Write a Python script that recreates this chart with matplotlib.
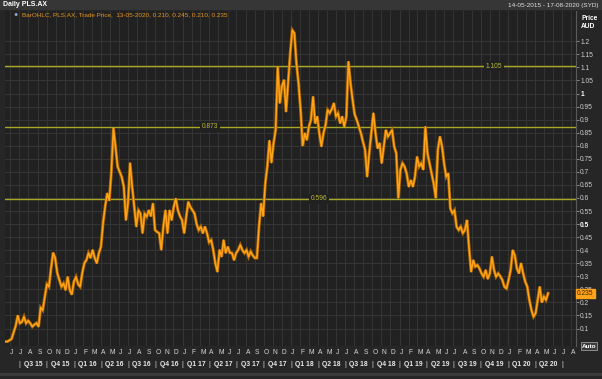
import matplotlib
matplotlib.use('Agg')
import matplotlib.pyplot as plt
import matplotlib.transforms as mtransforms
from matplotlib.patches import Rectangle
import pandas as pd
import numpy as np

plt.rcParams['font.family'] = ['Liberation Sans', 'DejaVu Sans']

# weekly trade price (AUD)
weeks = pd.date_range('2015-05-15', '2020-05-15', freq='W-FRI')
price = [
    0.05, 0.05, 0.055, 0.06, 0.085, 0.11, 0.15, 0.12, 0.125, 0.145,
    0.12, 0.13, 0.12, 0.107, 0.115, 0.121, 0.107, 0.18, 0.17, 0.222,
    0.27, 0.26, 0.33, 0.39, 0.37, 0.312, 0.286, 0.26, 0.273, 0.247,
    0.298, 0.247, 0.23, 0.28, 0.298, 0.27, 0.26, 0.312, 0.35, 0.362,
    0.389, 0.37, 0.401, 0.37, 0.35, 0.389, 0.413, 0.503, 0.566, 0.618,
    0.59, 0.70, 0.867, 0.796, 0.72, 0.70, 0.68, 0.643, 0.515, 0.58,
    0.734, 0.643, 0.566, 0.49, 0.553, 0.54, 0.465, 0.54, 0.528, 0.553,
    0.53, 0.579, 0.477, 0.47, 0.465, 0.401, 0.49, 0.553, 0.465, 0.553,
    0.515, 0.566, 0.598, 0.553, 0.53, 0.515, 0.465, 0.528, 0.585, 0.565,
    0.553, 0.54, 0.50, 0.477, 0.49, 0.465, 0.49, 0.465, 0.43, 0.439,
    0.401, 0.35, 0.317, 0.401, 0.375, 0.439, 0.389, 0.413, 0.39, 0.389,
    0.362, 0.389, 0.401, 0.42, 0.40, 0.389, 0.401, 0.375, 0.395, 0.38,
    0.37, 0.37, 0.49, 0.579, 0.53, 0.655, 0.72, 0.82, 0.735, 0.81,
    0.86, 1.103, 0.963, 1.027, 1.052, 0.93, 1.04, 1.154, 1.243, 1.231,
    1.116, 1.04, 0.937, 0.80, 0.848, 0.822, 0.873, 0.90, 0.988, 0.886,
    0.912, 0.848, 0.797, 0.848, 0.88, 0.937, 0.925, 0.94, 0.963, 0.912,
    0.925, 0.886, 0.912, 0.873, 0.912, 1.122, 1.04, 0.976, 0.92, 0.899,
    0.873, 0.848, 0.815, 0.784, 0.681, 0.771, 0.848, 0.925, 0.85, 0.79,
    0.81, 0.733, 0.797, 0.86, 0.835, 0.848, 0.86, 0.797, 0.771, 0.60,
    0.708, 0.733, 0.72, 0.694, 0.643, 0.668, 0.643, 0.681, 0.758, 0.72,
    0.733, 0.708, 0.873, 0.771, 0.733, 0.694, 0.655, 0.60, 0.784, 0.835,
    0.797, 0.733, 0.681, 0.694, 0.56, 0.541, 0.553, 0.49, 0.477, 0.49,
    0.465, 0.477, 0.515, 0.41, 0.317, 0.362, 0.337, 0.343, 0.33, 0.311,
    0.298, 0.324, 0.29, 0.311, 0.375, 0.324, 0.298, 0.311, 0.30, 0.286,
    0.26, 0.253, 0.286, 0.324, 0.40, 0.38, 0.33, 0.311, 0.35, 0.311,
    0.28, 0.26, 0.209, 0.171, 0.145, 0.158, 0.209, 0.26, 0.20, 0.222,
    0.209, 0.235,
]
last_price = 0.235

levels = [1.105, 0.873, 0.596]
level_labels = ['1.105', '0.873', '0.596']
level_label_dates = ['2019-11-15', '2017-04-03', '2018-04-05']

month_letters = 'JFMAMJJASOND'
month_starts = pd.date_range('2015-06-01', '2020-08-01', freq='MS')
quarter_starts = pd.date_range('2015-07-01', '2020-04-01', freq='QS')

W, H = 602, 379
fig = plt.figure(figsize=(W / 100, H / 100), dpi=100, facecolor='#262626')
ax = fig.add_axes([5 / W, 1 - 346 / H, 571 / W, 335 / H], facecolor='#212121')

# title bar
fig.patches.append(Rectangle((0, 1 - 10 / H), 1, 10 / H, transform=fig.transFigure,
                             facecolor='#363636', edgecolor='none', zorder=0))
fig.text(3 / W, 1 - 5 / H, 'Daily PLS.AX', color='white', fontsize=5, fontweight='bold',
         va='center', ha='left')
fig.text(599 / W, 1 - 5 / H, '14-05-2015 - 17-08-2020 (SYD)', color='#e0e0e0', fontsize=4.6,
         va='center', ha='right')
fig.patches.append(Rectangle((0, 1 - 376 / H), 1, 3 / H, transform=fig.transFigure,
                             facecolor='#3a3a3a', edgecolor='none', zorder=0))

ax.set_xlim(pd.Timestamp('2015-05-14'), pd.Timestamp('2020-08-17'))
ax.set_ylim(0.033, 1.316)

# grid
ax.set_xticks(month_starts)
ax.set_yticks(np.round(np.arange(0.1, 1.201, 0.05), 2))
ax.grid(True, color='#353535', lw=0.7)
ax.set_axisbelow(True)
for ys in pd.date_range('2016-01-01', '2020-01-01', freq='YS'):
    ax.axvline(ys, color='#444444', lw=0.8, zorder=0)

ax.yaxis.tick_right()
ax.tick_params(axis='x', length=0, labelbottom=False)
ax.tick_params(axis='y', length=2, width=0.6, color='#9a9a9a', labelsize=4.8,
               labelcolor='#cfcfcf', pad=1)
ax.set_yticklabels([f'{v:g}' for v in ax.get_yticks()])
for lab in ax.get_yticklabels():
    if lab.get_text() in ('1', '0.5'):
        lab.set_fontweight('bold')
        lab.set_color('white')
for s in ax.spines.values():
    s.set_visible(False)
ax.spines['right'].set_visible(True)
ax.spines['right'].set_color('#5a5a5a')
ax.spines['right'].set_linewidth(0.8)

# level lines
for lv, lt, ld in zip(levels, level_labels, level_label_dates):
    ax.axhline(lv, color='#a8a824', lw=1.0, zorder=2)
    ax.text(pd.Timestamp(ld), lv, lt, color='#b8b83a', fontsize=4.8, ha='center', va='center',
            zorder=3, bbox=dict(facecolor='#212121', edgecolor='none', pad=1.2))

# price
ax.plot(weeks, price, color='#a86400', lw=2.2, zorder=4, solid_joinstyle='miter')
ax.plot(weeks, price, color='#ffa31a', lw=1.1, zorder=5)

# header legend
ax.text(11 / 571, 1 - 4 / 335, '\u25cf', transform=ax.transAxes, color='#8fa8c8', fontsize=5,
        va='center', ha='center')
ax.text(17 / 571, 1 - 4 / 335, 'BarOHLC, PLS.AX, Trade Price,  13-05-2020, 0.210, 0.245, 0.210, 0.235',
        transform=ax.transAxes, color='#e8961e', fontsize=4.6, va='center', ha='left')

# right axis header
fig.text(581 / W, 1 - 18 / H, 'Price', color='white', fontsize=4.8, fontweight='bold',
         va='center', ha='left')
fig.text(581 / W, 1 - 27 / H, 'AUD', color='white', fontsize=4.8, fontweight='bold',
         va='center', ha='left')

# last price tag (covers the 0.25 tick label, as in the source)
ax.text(1.002, last_price, f'{last_price:.3f}', transform=ax.get_yaxis_transform(),
        color='#3a2000', fontsize=4.8, va='center', ha='left', zorder=10, clip_on=False,
        bbox=dict(facecolor='#ffa31a', edgecolor='#ffa31a', pad=0.8))

# Auto button
fig.text(589 / W, 1 - 346 / H, 'Auto', color='white', fontsize=4.6, fontweight='bold',
         va='center', ha='center',
         bbox=dict(facecolor='#3c3c3c', edgecolor='#9a9a9a', lw=0.6, pad=0.8))

# month and quarter labels
trans = mtransforms.blended_transform_factory(ax.transData, fig.transFigure)
for m in month_starts:
    ax.text(m, 1 - 353 / H, month_letters[m.month - 1], transform=trans, color='#d8d8d8',
            fontsize=4.8, ha='left', va='center', clip_on=False)
for q in quarter_starts:
    mid = q + (q + pd.offsets.QuarterBegin(startingMonth=1) - q) / 2
    ax.text(q, 1 - 364 / H, '|', transform=trans, color='#d8d8d8', fontsize=5,
            ha='center', va='center', clip_on=False)
    ax.text(mid, 1 - 364 / H, f'Q{q.quarter} {q.year % 100}', transform=trans, color='#e8e8e8',
            fontsize=4.9, fontweight='bold', ha='center', va='center', clip_on=False)
ax.text(pd.Timestamp('2020-07-01'), 1 - 364 / H, '|', transform=trans, color='#d8d8d8',
        fontsize=5, ha='center', va='center', clip_on=False)

fig.savefig('out.png', dpi=100, facecolor=fig.get_facecolor())
